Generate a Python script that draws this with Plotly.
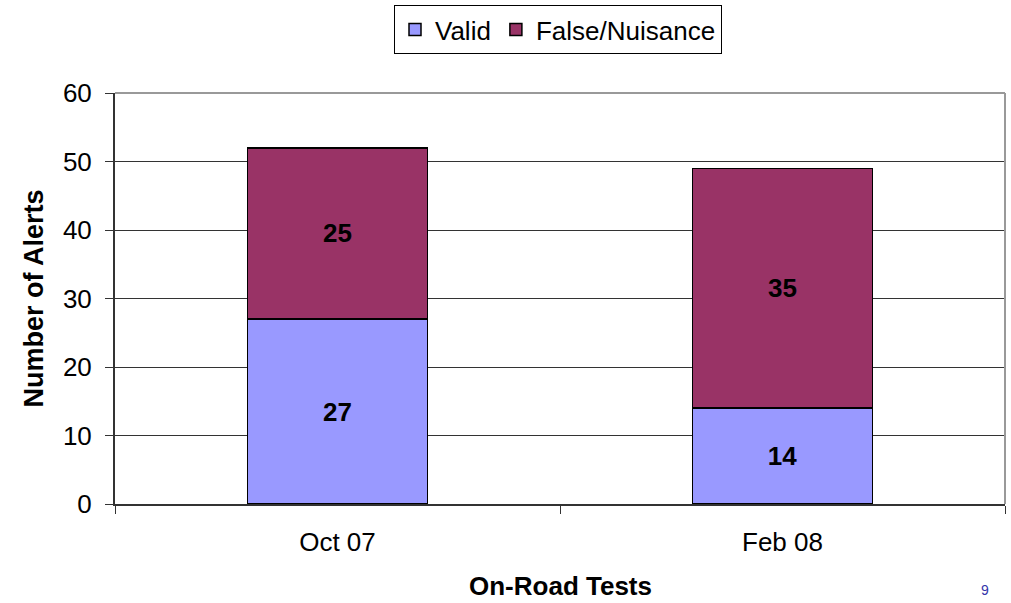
import plotly.graph_objects as go

categories = ["Oct 07", "Feb 08"]
valid = [27, 14]
false_nuisance = [25, 35]
y_ticks = [0, 10, 20, 30, 40, 50, 60]

FONT = "Liberation Sans, Arial, sans-serif"
L, R, T, B = 115, 6, 93, 99
W, H = 1011, 603
PW, PH = W - L - R, H - T - B

fig = go.Figure()
fig.add_trace(go.Bar(
    x=categories, y=valid, name="Valid",
    marker=dict(color="#9999FF", line=dict(color="#000000", width=1.5)),
    texttemplate="<b>%{y}</b>", textposition="inside", insidetextanchor="middle",
    textfont=dict(family=FONT, size=26, color="#000000"),
))
fig.add_trace(go.Bar(
    x=categories, y=false_nuisance, name="False/Nuisance",
    marker=dict(color="#993366", line=dict(color="#000000", width=1.5)),
    texttemplate="<b>%{y}</b>", textposition="inside", insidetextanchor="middle",
    textfont=dict(family=FONT, size=26, color="#000000"),
))

fig.update_layout(
    barmode="stack",
    bargap=0.595,
    width=W, height=H,
    margin=dict(l=L, r=R, t=T, b=B, autoexpand=False),
    paper_bgcolor="white", plot_bgcolor="white",
    font=dict(family=FONT, size=26, color="#000000"),
    showlegend=True,
    legend=dict(
        orientation="h", x=(558 - L) / PW, xanchor="center",
        y=1 + (T - 5) / PH, yanchor="top",
        bordercolor="#000000", borderwidth=1,
        font=dict(family=FONT, size=26, color="#000000"),
        traceorder="normal", itemwidth=30,
    ),
    uniformtext=dict(mode=False),
)
fig.update_xaxes(
    type="category", automargin=False,
    showline=True, linecolor="#333333", linewidth=2,
    ticks="outside", ticklen=8, tickcolor="#333333", tickson="boundaries",
    tickfont=dict(family=FONT, size=26, color="#000000"),
    ticklabelstandoff=14,
    mirror=False,
)
fig.update_yaxes(
    range=[0, 60], tickvals=y_ticks, automargin=False,
    showline=True, linecolor="#333333", linewidth=2,
    ticks="outside", ticklen=8, tickcolor="#333333",
    showgrid=True, gridcolor="#333333", gridwidth=1,
    tickfont=dict(family=FONT, size=26, color="#000000"),
    ticklabelstandoff=8,
    zeroline=False,
)
# axis titles
fig.add_annotation(text="<b>On-Road Tests</b>", xref="paper", yref="paper",
                   x=(560 - L) / PW, y=-(586 - (H - B)) / PH, xanchor="center", yanchor="middle",
                   showarrow=False, font=dict(family=FONT, size=26, color="#000000"))
fig.add_annotation(text="<b>Number of Alerts</b>", xref="paper", yref="paper",
                   x=(33 - L) / PW, y=0.5, xanchor="center", yanchor="middle", textangle=-90,
                   showarrow=False, font=dict(family=FONT, size=27, color="#000000"))
# gray plot-area border (top and right)
fig.add_shape(type="line", xref="paper", yref="paper", x0=0, x1=1, y0=1, y1=1,
              line=dict(color="#999999", width=2))
fig.add_shape(type="line", xref="paper", yref="paper", x0=1, x1=1, y0=0, y1=1,
              line=dict(color="#999999", width=2))
# slide number
fig.add_annotation(text="9", xref="paper", yref="paper", x=(985 - L) / PW, y=-(600 - (H - B)) / PH,
                   xanchor="center", yanchor="bottom", showarrow=False,
                   font=dict(family=FONT, size=14, color="#3333AA"))

fig.write_html("out.html", config={"displayModeBar": False},
               post_script="document.body.style.margin='0px';")
